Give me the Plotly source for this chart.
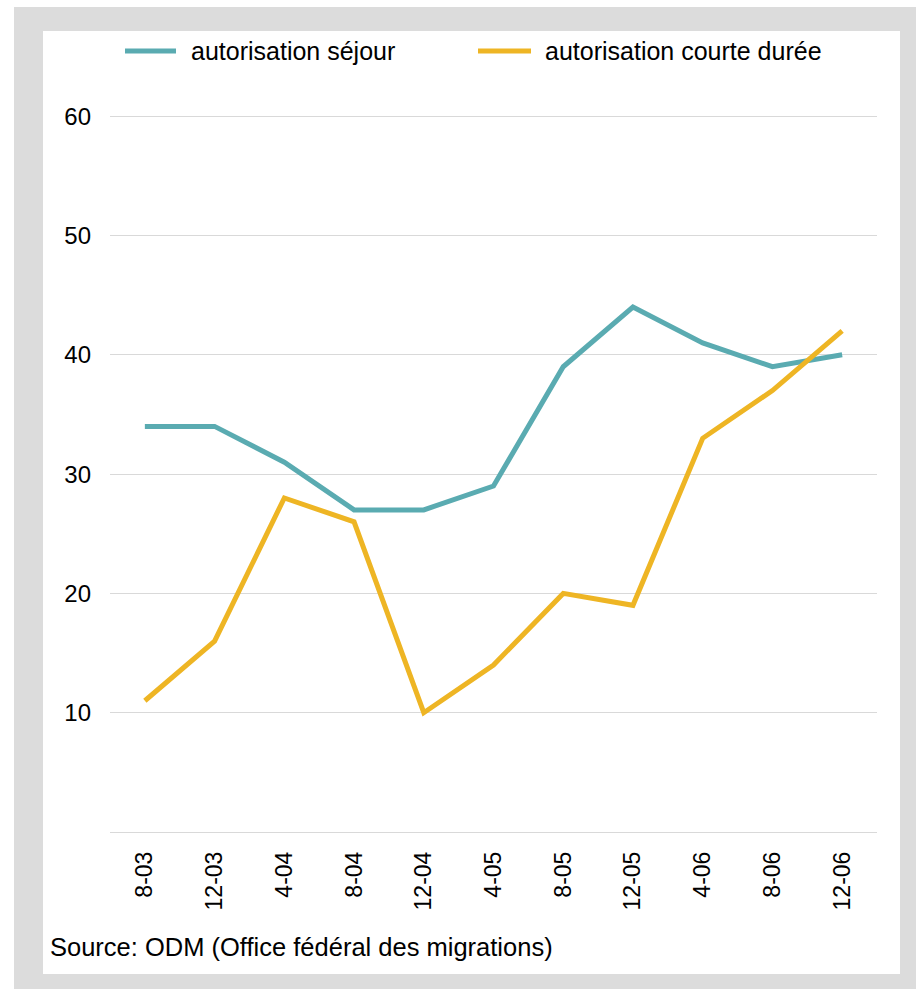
import plotly.graph_objects as go

# Period labels (month-year) and counts per authorisation type
periods = ["8-03", "12-03", "4-04", "8-04", "12-04", "4-05",
           "8-05", "12-05", "4-06", "8-06", "12-06"]
sejour = [34, 34, 31, 27, 27, 29, 39, 44, 41, 39, 40]
courte_duree = [11, 16, 28, 26, 10, 14, 20, 19, 33, 37, 42]

series_names = ["autorisation séjour", "autorisation courte durée"]
series_colors = ["#5aabb1", "#eeb524"]

W, H = 916, 989
L, R, T, B = 110, 877, 115, 832  # plot area in pixels
Y_MAX = 60.1


def px_x(x):
    return (x - L) / (R - L)


def px_y(y):
    return (B - y) / (B - T)


FONT = "Liberation Sans, Arial, sans-serif"

fig = go.Figure()
for name, vals, col in zip(series_names, [sejour, courte_duree], series_colors):
    fig.add_trace(go.Scatter(
        x=periods, y=vals, name=name, mode="lines",
        line=dict(color=col, width=5), showlegend=False,
    ))

shapes = [
    # grey frame and white panel
    dict(type="rect", xref="paper", yref="paper", layer="below",
         x0=px_x(14), x1=px_x(W + 5), y0=px_y(H + 5), y1=px_y(7),
         fillcolor="#dcdcdc", line=dict(width=0)),
    dict(type="rect", xref="paper", yref="paper", layer="below",
         x0=px_x(43), x1=px_x(900), y0=px_y(974), y1=px_y(31),
         fillcolor="white", line=dict(width=0)),
]

# legend samples
legend_items = [(125, 176, 189), (478, 531, 543)]
annotations = []
for (lx0, lx1, tx), name, col in zip(legend_items, series_names, series_colors):
    shapes.append(dict(type="line", xref="paper", yref="paper",
                       x0=px_x(lx0), x1=px_x(lx1), y0=px_y(51), y1=px_y(51),
                       line=dict(color=col, width=5)))
    annotations.append(dict(xref="paper", yref="paper", x=px_x(tx), y=px_y(51),
                            xanchor="left", yanchor="middle", showarrow=False,
                            text=name, font=dict(size=25, color="black", family=FONT)))

annotations.append(dict(xref="paper", yref="paper", x=px_x(48), y=px_y(947),
                        xanchor="left", yanchor="middle", showarrow=False,
                        text="Source: ODM (Office fédéral des migrations)",
                        font=dict(size=25.5, color="black", family=FONT)))

fig.update_layout(
    width=W, height=H,
    margin=dict(l=L, r=W - R, t=T, b=H - B, pad=0),
    paper_bgcolor="white", plot_bgcolor="rgba(0,0,0,0)",
    font=dict(family=FONT, color="black"),
    shapes=shapes, annotations=annotations,
    showlegend=False,
)
fig.update_xaxes(
    type="category", range=[-0.5, len(periods) - 0.5],
    tickangle=-90, tickfont=dict(size=23, color="black"),
    showgrid=False, zeroline=False, showline=False,
    ticks="", ticklabelstandoff=14,
)
fig.update_yaxes(
    range=[0, Y_MAX], tickvals=[10, 20, 30, 40, 50, 60],
    tickfont=dict(size=24, color="black"),
    showgrid=True, gridcolor="#d9d9d9", gridwidth=1,
    zeroline=True, zerolinecolor="#d9d9d9", zerolinewidth=1,
    showline=False, ticks="", ticklabelstandoff=18,
)

fig.write_html("out.html")
